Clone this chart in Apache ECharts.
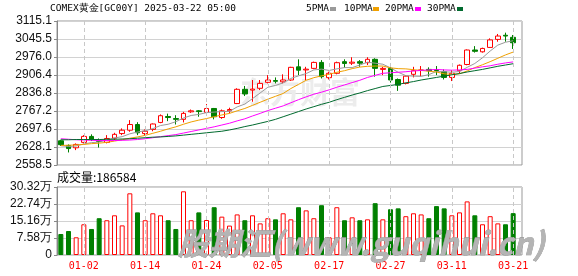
<!DOCTYPE html>
<html><head><meta charset="utf-8">
<script src="https://cdn.jsdelivr.net/npm/echarts@6/dist/echarts.min.js"></script>
<style>html,body{margin:0;padding:0;background:#fff}#c{width:578px;height:276px}</style>
</head><body><div id="c"></div>
<script>
const categories = ['12-27','12-30','12-31','01-02','01-03','01-06','01-07','01-08','01-09','01-10',
'01-13','01-14','01-15','01-16','01-17','01-20','01-21','01-22','01-23','01-24',
'01-27','01-28','01-29','01-30','01-31','02-03','02-04','02-05','02-06','02-07',
'02-10','02-11','02-12','02-13','02-14','02-17','02-18','02-19','02-20','02-21',
'02-24','02-25','02-26','02-27','02-28','03-03','03-04','03-05','03-06','03-07',
'03-10','03-11','03-12','03-13','03-14','03-17','03-18','03-19','03-20','03-21'];
const opens = [2652,2634,2625,2646,2669,2652,2646,2662,2680,2693,
2715,2680,2696,2723,2746,2738,2735,2764,2768,2762,
2777,2742,2768,2796,2851,2848,2855,2878,2885,2880,
2887,2938,2926,2932,2955,2896,2913,2958,2952,2958,
2954,2967,2928,2932,2889,2874,2909,2924,2928,2926,
2919,2897,2923,2947,3003,2996,3013,3044,3060,3052];
const closes = [2637,2622,2638,2669,2657,2650,2661,2677,2693,2715,
2683,2689,2717,2749,2742,2735,2758,2768,2765,2777,
2745,2768,2773,2851,2833,2852,2874,2887,2882,2887,
2936,2925,2929,2955,2900,2913,2954,2951,2956,2952,
2967,2932,2932,2887,2867,2902,2923,2926,2923,2924,
2897,2913,2944,3003,2998,3009,3042,3057,3057,3031];
const lows = [2632,2607,2616,2642,2651,2626,2642,2655,2674,2687,
2674,2674,2689,2720,2728,2715,2723,2760,2745,2758,
2735,2737,2758,2794,2825,2803,2848,2874,2874,2874,
2884,2906,2887,2929,2893,2889,2909,2935,2945,2938,
2945,2900,2906,2877,2845,2870,2897,2902,2900,2906,
2889,2883,2913,2944,2993,2993,3011,3035,3035,3007];
const highs = [2656,2638,2642,2674,2677,2661,2674,2683,2700,2732,
2724,2696,2719,2754,2757,2751,2764,2773,2771,2794,
2779,2773,2780,2855,2864,2887,2887,2906,2897,2909,
2938,2967,2938,2958,2964,2919,2958,2967,2975,2964,
2975,2971,2938,2938,2893,2906,2938,2941,2936,2941,
2928,2925,2947,3005,3018,3012,3048,3065,3070,3061];
const volumes = [93600,107000,79000,137000,116000,164000,155000,177000,132000,275000,
190000,155000,186000,177000,155000,116000,284000,155000,190000,156000,
213000,171000,131000,181000,155000,177000,141000,164000,159000,186000,
159000,213000,199000,164000,222000,79000,213000,155000,168000,155000,
159000,231000,159000,204000,208000,173000,186000,181000,164000,218000,
208000,177000,190000,239000,177000,137000,173000,141000,137000,186584];
const ma5 = [2633,2630,2632,2640,2645,2647,2655,2663,2668,2679,
2686,2691,2699,2711,2716,2726,2740,2750,2754,2761,
2763,2765,2766,2783,2794,2815,2837,2859,2866,2876,
2893,2903,2912,2926,2929,2924,2930,2935,2935,2945,
2956,2952,2948,2934,2917,2904,2902,2901,2908,2920,
2919,2917,2920,2936,2951,2973,2999,3022,3033,3039];
const ma10 = [2634,2635,2636,2638,2641,2643,2646,2651,2656,2662,
2667,2673,2681,2689,2698,2706,2716,2725,2732,2738,
2745,2752,2758,2768,2777,2789,2801,2813,2824,2835,
2854,2870,2886,2896,2903,2909,2917,2923,2931,2937,
2940,2941,2941,2934,2931,2930,2927,2924,2921,2918,
2911,2909,2911,2922,2935,2946,2958,2971,2984,2995];
const ma20 = [2660,2658,2656,2655,2654,2653,2653,2653,2654,2655,
2657,2660,2664,2668,2672,2676,2682,2688,2694,2700,
2706,2713,2720,2729,2737,2748,2758,2769,2778,2787,
2799,2811,2822,2832,2840,2849,2859,2868,2877,2886,
2897,2905,2913,2915,2917,2919,2922,2924,2926,2928,
2926,2925,2926,2928,2933,2938,2942,2948,2953,2957];
const ma30 = [2656,2656,2657,2657,2657,2657,2658,2658,2659,2660,
2662,2664,2666,2667,2669,2671,2674,2677,2680,2683,
2686,2689,2694,2700,2707,2713,2720,2727,2735,2745,
2755,2765,2775,2784,2793,2801,2811,2820,2829,2837,
2846,2854,2862,2866,2870,2876,2881,2887,2892,2897,
2902,2907,2912,2918,2923,2928,2934,2940,2945,2950];
const priceTickLabels = ['2558.5','2628.1','2697.6','2767.2','2836.8','2906.4','2976.0','3045.5','3115.1'];
const volumeTickLabels = ['0','7.58万','15.16万','22.74万','30.32万'];
const dateTickLabels = ['01-02','01-14','01-24','02-05','02-17','02-27','03-11','03-21'];

const priceMin = 2558.5, priceMax = 3115.1;
const priceInterval = (priceMax - priceMin) / 8;
const volMax = 303200, volInterval = 75800;

const UP = '#ff0000', DOWN = '#008000';
const mono = "'DejaVu Sans Mono', 'Liberation Mono', monospace";
const sans = "'Liberation Sans', Arial, sans-serif";

const kData = opens.map((o, i) => [o, closes[i], lows[i], highs[i]]);
const volData = volumes.map((v, i) => {
  const up = closes[i] >= opens[i];
  return { value: v, itemStyle: up ? { color: '#ffffff', borderColor: UP, borderWidth: 1 } : { color: DOWN, borderColor: DOWN, borderWidth: 1 } };
});
const vLines = {
  silent: true, symbol: 'none', label: { show: false },
  lineStyle: { color: '#c8c8c8', type: [4, 3], width: 1 },
  data: dateTickLabels.map(d => ({ xAxis: d }))
};

const chart = echarts.init(document.getElementById('c'), null, { renderer: 'canvas' });
const frameY = (min, max, interval, fmt) => ({
  min, max, interval,
  axisLine: { show: true, lineStyle: { color: '#888' } },
  axisTick: { show: true, length: 3, lineStyle: { color: '#888' } },
  splitLine: { show: true, lineStyle: { color: '#d2d2d2' } },
  axisLabel: { fontSize: 12, color: '#111', margin: 5, fontFamily: sans, formatter: fmt }
});
chart.setOption({
  animation: false,
  backgroundColor: '#fff',
  grid: [
    { left: 57, top: 21, width: 465, height: 144, show: true, borderColor: '#999', borderWidth: 1 },
    { left: 57, top: 21, width: 460, height: 144 },
    { left: 57, top: 187, width: 465, height: 68, show: true, borderColor: '#999', borderWidth: 1 },
    { left: 57, top: 187, width: 460, height: 68 }
  ],
  xAxis: [
    { gridIndex: 0, type: 'value', min: 0, max: 1, show: false },
    { gridIndex: 1, type: 'category', data: categories, show: false },
    { gridIndex: 2, type: 'value', min: 0, max: 1, show: false },
    { gridIndex: 3, type: 'category', data: categories,
      axisLine: { show: false }, axisTick: { show: false }, splitLine: { show: false },
      axisLabel: { color: '#ff0000', fontSize: 10, fontFamily: mono, margin: 6,
        interval: (idx, val) => dateTickLabels.includes(val) } }
  ],
  yAxis: [
    Object.assign({ gridIndex: 0 }, frameY(priceMin, priceMax, priceInterval,
      v => priceTickLabels[Math.round((v - priceMin) / priceInterval)] || '')),
    { gridIndex: 1, min: priceMin, max: priceMax, show: false },
    Object.assign({ gridIndex: 2 }, frameY(0, volMax, volInterval,
      v => volumeTickLabels[Math.round(v / volInterval)] || '')),
    { gridIndex: 3, min: 0, max: volMax, show: false }
  ],
  series: [
    { type: 'line', xAxisIndex: 1, yAxisIndex: 1, data: [], z: 1, markLine: vLines },
    { type: 'line', xAxisIndex: 3, yAxisIndex: 3, data: [], z: 1, markLine: vLines },
    { name: 'K', type: 'candlestick', xAxisIndex: 1, yAxisIndex: 1, data: kData, barWidth: 5, z: 3,
      itemStyle: { color: '#ffffff', color0: DOWN, borderColor: UP, borderColor0: DOWN, borderWidth: 1 } },
    { name: '5PMA', type: 'line', xAxisIndex: 1, yAxisIndex: 1, data: ma5, showSymbol: false, z: 4,
      lineStyle: { color: '#9a9a9a', width: 1 } },
    { name: '10PMA', type: 'line', xAxisIndex: 1, yAxisIndex: 1, data: ma10, showSymbol: false, z: 4,
      lineStyle: { color: '#f0a000', width: 1 } },
    { name: '20PMA', type: 'line', xAxisIndex: 1, yAxisIndex: 1, data: ma20, showSymbol: false, z: 4,
      lineStyle: { color: '#ff00ff', width: 1 } },
    { name: '30PMA', type: 'line', xAxisIndex: 1, yAxisIndex: 1, data: ma30, showSymbol: false, z: 4,
      lineStyle: { color: '#006a2e', width: 1 } },
    { name: 'VOL', type: 'bar', xAxisIndex: 3, yAxisIndex: 3, data: volData, barWidth: 5, z: 3 }
  ],
  graphic: [
    { type: 'text', z: 1, x: 240, y: 92, style: { text: '东方财富', font: "bold 30px 'Noto Sans CJK SC'", fill: '#ececec', verticalAlign: 'middle' } },
    { type: 'text', z: 0, x: 50, y: 9, style: { text: 'COMEX黄金[GC00Y] 2025-03-22 05:00', font: '9.5px ' + mono, fill: '#000', verticalAlign: 'middle' } },
    { type: 'text', x: 306, y: 9, style: { text: '5PMA', font: '9.5px ' + mono, fill: '#000', verticalAlign: 'middle' } },
    { type: 'rect', shape: { x: 330, y: 7, width: 6, height: 4 }, style: { fill: '#9a9a9a' } },
    { type: 'text', x: 344, y: 9, style: { text: '10PMA', font: '9.5px ' + mono, fill: '#000', verticalAlign: 'middle' } },
    { type: 'rect', shape: { x: 373, y: 7, width: 6, height: 4 }, style: { fill: '#f0a000' } },
    { type: 'text', x: 385, y: 9, style: { text: '20PMA', font: '9.5px ' + mono, fill: '#000', verticalAlign: 'middle' } },
    { type: 'rect', shape: { x: 415, y: 7, width: 6, height: 4 }, style: { fill: '#ff00ff' } },
    { type: 'text', x: 427, y: 9, style: { text: '30PMA', font: '9.5px ' + mono, fill: '#000', verticalAlign: 'middle' } },
    { type: 'rect', shape: { x: 457, y: 7, width: 6, height: 4 }, style: { fill: '#006a2e' } },
    { type: 'text', x: 57, y: 177, style: { text: '成交量:186584', font: "12px 'Noto Sans CJK SC'", fill: '#000', verticalAlign: 'middle' } },
    { type: 'text', z: 10, x: 178, y: 243, style: { text: '股期汇(www.guqihui.cn)', font: "italic bold 31px 'Noto Sans CJK SC'", fill: '#b4b4b4', stroke: '#8c8c8c', lineWidth: 0.6, verticalAlign: 'middle' } }
  ]
});
</script></body></html>
